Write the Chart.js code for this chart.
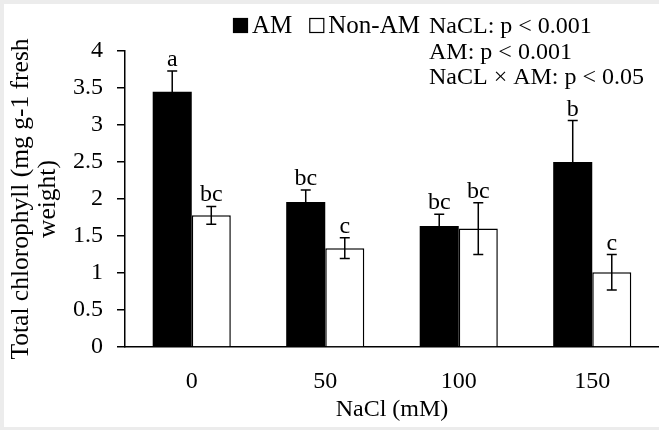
<!DOCTYPE html>
<html>
<head>
<meta charset="utf-8">
<script src="https://cdn.jsdelivr.net/npm/chart.js@4.4.1/dist/chart.umd.min.js"></script>
<style>
  html, body { margin: 0; padding: 0; background: #ececec; }
  #wrap { position: absolute; left: 4px; top: 4px; width: 655px; height: 423px; background: #fff; }
</style>
</head>
<body>
<div id="wrap"><canvas id="chlChart"></canvas></div>
<script>
// Data
const categories = ["0", "50", "100", "150"];
const amValues = [3.45, 1.96, 1.635, 2.5];
const amErrors = [0.28, 0.16, 0.16, 0.56];
const amLetters = ["a", "bc", "bc", "b"];
const nonAmValues = [1.78, 1.335, 1.6, 1.01];
const nonAmErrors = [0.12, 0.14, 0.35, 0.24];
const nonAmLetters = ["bc", "c", "bc", "c"];
const statLines = ["NaCL: p < 0.001", "AM: p < 0.001", "NaCL × AM: p < 0.05"];

const serif = "'Liberation Serif', 'Times New Roman', serif";

// error bars + significance letters
const errorBarPlugin = {
  id: "errorBars",
  afterDatasetsDraw(chart) {
    const ctx = chart.ctx;
    const yScale = chart.scales.y;
    chart.data.datasets.forEach(function (ds, i) {
      const meta = chart.getDatasetMeta(i);
      meta.data.forEach(function (bar, j) {
        const v = ds.data[j];
        const e = ds.errors[j];
        const top = yScale.getPixelForValue(v + e);
        const bottom = yScale.getPixelForValue(v - e);
        ctx.save();
        ctx.strokeStyle = "#000";
        ctx.lineWidth = 1.5;
        ctx.beginPath();
        ctx.moveTo(bar.x, top);
        ctx.lineTo(bar.x, bottom);
        ctx.moveTo(bar.x - 5, top);
        ctx.lineTo(bar.x + 5, top);
        ctx.moveTo(bar.x - 5, bottom);
        ctx.lineTo(bar.x + 5, bottom);
        ctx.stroke();
        ctx.fillStyle = "#000";
        ctx.font = "24px " + serif;
        ctx.textAlign = "center";
        ctx.textBaseline = "alphabetic";
        ctx.fillText(ds.letters[j], bar.x, top - 5);
        ctx.restore();
      });
    });
  },
};

// legend boxes and the stats text at the top
const topTextPlugin = {
  id: "topText",
  afterDraw(chart) {
    const ctx = chart.ctx;
    ctx.save();
    ctx.font = "25px " + serif;
    ctx.textBaseline = "alphabetic";
    ctx.fillStyle = "#000";
    let x = 229;
    chart.data.datasets.forEach(function (ds) {
      ctx.fillStyle = ds.backgroundColor;
      ctx.fillRect(x, 14, 15, 15);
      ctx.strokeStyle = "#000";
      ctx.lineWidth = 1.2;
      ctx.strokeRect(x + 0.5, 14.5, 14, 14);
      ctx.fillStyle = "#000";
      ctx.fillText(ds.label, x + 19, 29);
      x += 19 + ctx.measureText(ds.label).width + 17;
    });
    ctx.font = "24px " + serif;
    statLines.forEach(function (line, i) {
      ctx.fillText(line, 425, 29 + i * 25.5);
    });
    ctx.restore();
  },
};

const chlCtx = document.getElementById("chlChart").getContext("2d");
const chlChart = new Chart(chlCtx, {
  type: "bar",
  data: {
    labels: categories,
    datasets: [
      {
        label: "AM",
        data: amValues,
        errors: amErrors,
        letters: amLetters,
        backgroundColor: "#000",
        borderColor: "#000",
        borderWidth: 0,
        categoryPercentage: 0.585,
        barPercentage: 1,
      },
      {
        label: "Non-AM",
        data: nonAmValues,
        errors: nonAmErrors,
        letters: nonAmLetters,
        backgroundColor: "#fff",
        borderColor: "#000",
        borderWidth: 1.5,
        categoryPercentage: 0.585,
        barPercentage: 1,
      },
    ],
  },
  options: {
    responsive: true,
    maintainAspectRatio: false,
    animation: false,
    layout: { padding: { top: 47, left: 0, right: 0, bottom: 0 } },
    scales: {
      x: {
        grid: { display: false, drawTicks: false },
        border: { display: true, color: "#000", width: 1.5 },
        ticks: { color: "#000", font: { family: serif, size: 24 }, padding: 20 },
        title: {
          display: true,
          text: "NaCl (mM)",
          color: "#000",
          font: { family: serif, size: 24 },
          padding: { top: 0, bottom: 3 },
        },
        afterFit: function (scale) {
          scale.height = 80;
        },
      },
      y: {
        min: 0,
        max: 4,
        ticks: {
          stepSize: 0.5,
          color: "#000",
          font: { family: serif, size: 24 },
          padding: 14,
          callback: function (value) {
            return String(value);
          },
        },
        grid: { drawOnChartArea: false, drawTicks: true, tickLength: 8, color: "#000", lineWidth: 1.5 },
        border: { display: true, color: "#000", width: 1.5 },
        title: {
          display: true,
          text: ["Total chlorophyll (mg g-1 fresh", "weight)"],
          color: "#000",
          font: { family: serif, size: 25.5, lineHeight: 1.05 },
          padding: { top: 4, bottom: 0 },
        },
        afterFit: function (scale) {
          scale.width = 121;
        },
      },
    },
    plugins: {
      legend: { display: false },
      tooltip: { enabled: false },
    },
  },
  plugins: [errorBarPlugin, topTextPlugin],
});
</script>
</body>
</html>
